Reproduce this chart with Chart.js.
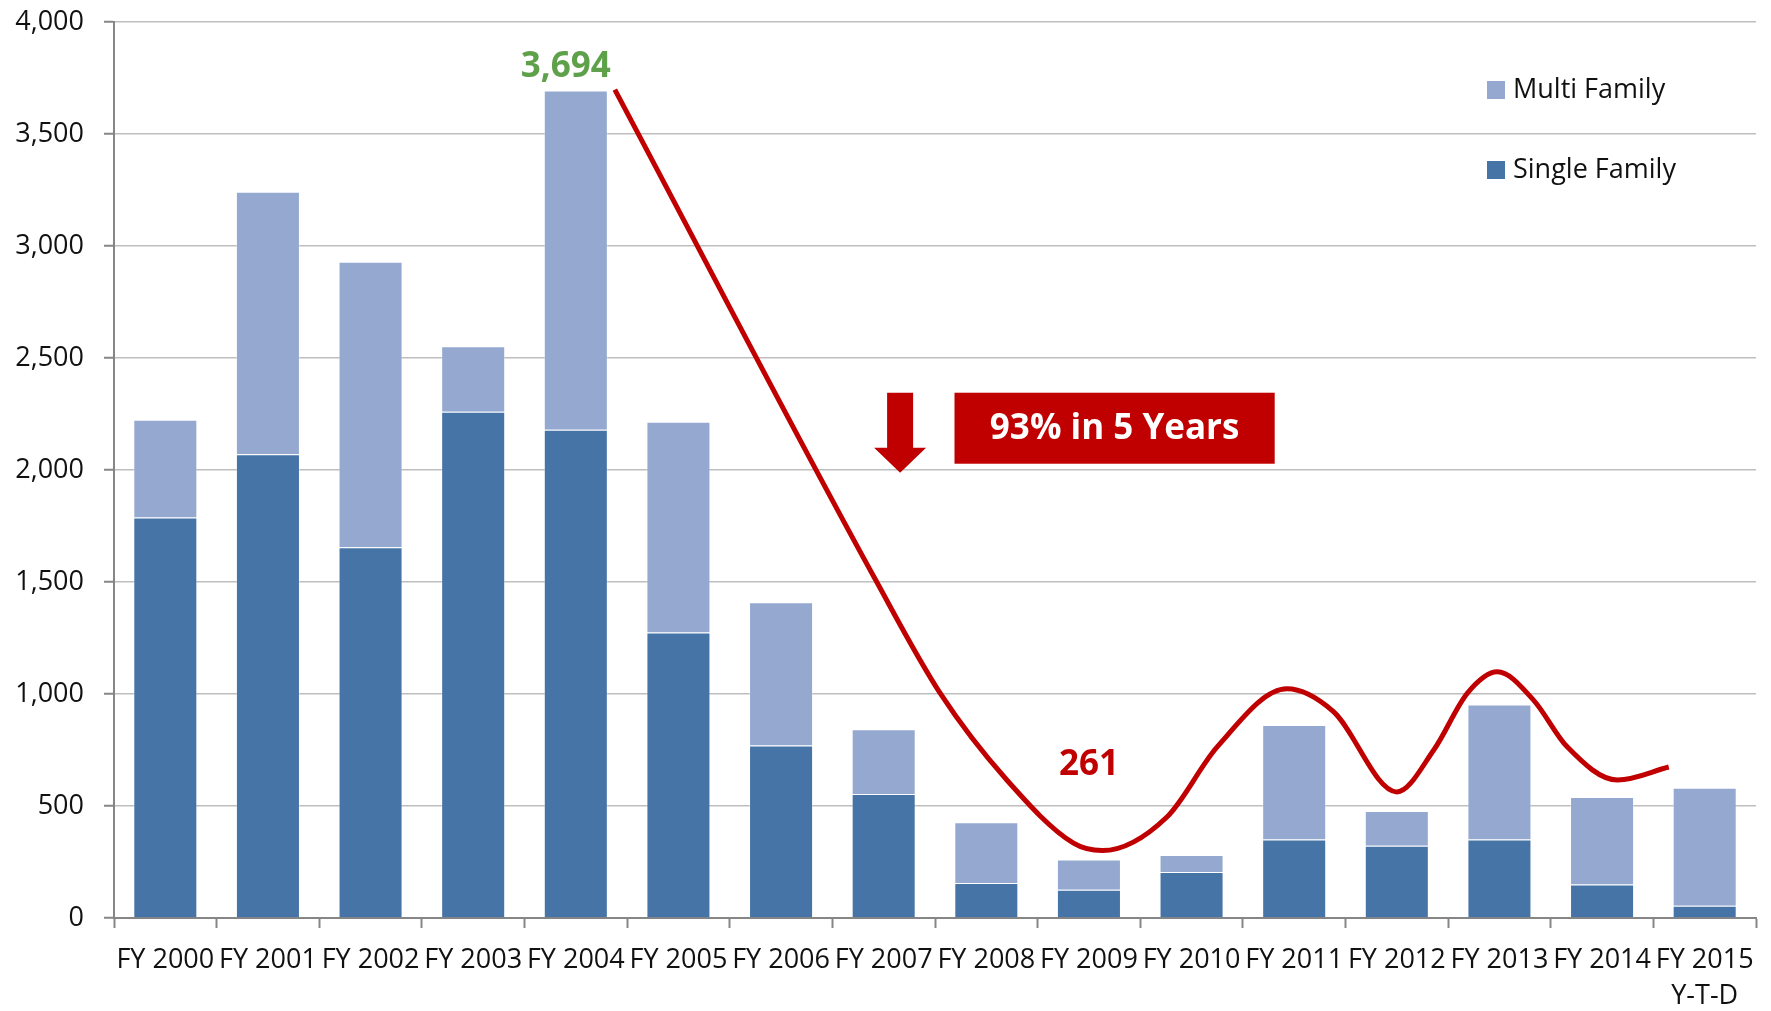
<!DOCTYPE html>
<html>
<head>
<meta charset="utf-8">
<script src="https://cdn.jsdelivr.net/npm/chart.js@4.4.1/dist/chart.umd.min.js"></script>
<style>
  html, body { margin: 0; padding: 0; background: #fff; }
  #wrap { width: 1771px; height: 1011px; }
</style>
</head>
<body>
<div id="wrap"><canvas id="permitChart" width="1771" height="1011"></canvas></div>
<script>
// fiscal years on the x axis
const years = ['FY 2000', 'FY 2001', 'FY 2002', 'FY 2003', 'FY 2004', 'FY 2005', 'FY 2006', 'FY 2007',
  'FY 2008', 'FY 2009', 'FY 2010', 'FY 2011', 'FY 2012', 'FY 2013', 'FY 2014', ['FY 2015', 'Y-T-D']];

const singleFamily = [1788, 2070, 1655, 2260, 2180, 1275, 770, 554, 156, 126, 205, 350, 323, 350, 150, 55];
const multiFamily = [436, 1172, 1275, 292, 1514, 940, 640, 289, 272, 135, 76, 512, 155, 603, 390, 527];

// hand drawn red trend curve, x = category index
const trendX = [4.38, 6.93, 7.55, 8.2, 8.85, 9.13, 9.76, 10.25, 10.93, 11.38, 12.0, 12.36, 12.69,
  12.98, 13.33, 13.66, 14.15, 14.65];
const trendY = [3698, 1502, 1004, 616, 334, 301, 451, 764, 1023, 922, 563, 750, 1005,
  1099, 974, 764, 616, 674];

const yTicks = [0, 500, 1000, 1500, 2000, 2500, 3000, 3500, 4000];

const peakIdx = 4;
const lowIdx = 9;
const dropText = '93% in 5 Years';

const RED = '#C00000';
const AXIS = '#868686';
const FONT = '"Open Sans", sans-serif';

const fmt = v => Math.round(v).toString().replace(/\B(?=(\d{3})+(?!\d))/g, ',');
const total = i => singleFamily[i] + multiFamily[i];

const overlayPlugin = {
  id: 'overlay',
  afterDatasetsDraw(chart) {
    const ctx = chart.ctx;
    const xs = chart.scales.x, x2 = chart.scales.x2, ys = chart.scales.y;
    ctx.save();

    // peak / low value labels
    ctx.textAlign = 'center';
    ctx.textBaseline = 'alphabetic';
    ctx.font = 'bold 35px ' + FONT;
    ctx.fillStyle = '#5FA04A';
    ctx.fillText(fmt(total(peakIdx)), xs.getPixelForValue(peakIdx) - 10, ys.getPixelForValue(total(peakIdx)) - 14);
    ctx.fillStyle = RED;
    ctx.fillText(fmt(total(lowIdx)), xs.getPixelForValue(lowIdx), ys.getPixelForValue(total(lowIdx)) - 85);

    // red box
    const bx0 = x2.getPixelForValue(7.69), bx1 = x2.getPixelForValue(10.81);
    const by0 = ys.getPixelForValue(2345), by1 = ys.getPixelForValue(2028);
    ctx.fillStyle = RED;
    ctx.fillRect(bx0, by0, bx1 - bx0, by1 - by0);
    ctx.fillStyle = '#fff';
    ctx.textBaseline = 'middle';
    ctx.fillText(dropText, (bx0 + bx1) / 2, (by0 + by1) / 2 + 1);

    // down arrow
    const ax = x2.getPixelForValue(7.16);
    const aTop = ys.getPixelForValue(2345), aMid = ys.getPixelForValue(2099), aTip = ys.getPixelForValue(1988);
    ctx.fillStyle = RED;
    ctx.beginPath();
    ctx.moveTo(ax - 13, aTop);
    ctx.lineTo(ax + 13, aTop);
    ctx.lineTo(ax + 13, aMid);
    ctx.lineTo(ax + 26, aMid);
    ctx.lineTo(ax, aTip);
    ctx.lineTo(ax - 26, aMid);
    ctx.lineTo(ax - 13, aMid);
    ctx.closePath();
    ctx.fill();

    // legend, stacked top entry first
    ctx.font = '27px ' + FONT;
    ctx.textAlign = 'left';
    ctx.textBaseline = 'middle';
    const bars = chart.data.datasets.filter(d => d.type === 'bar').slice().reverse();
    bars.forEach((d, i) => {
      const cy = 90 + i * 80;
      ctx.fillStyle = d.backgroundColor;
      ctx.fillRect(1487, cy - 9, 18, 18);
      ctx.fillStyle = '#111';
      ctx.fillText(d.label, 1513, cy);
    });
    ctx.restore();
  }
};

Chart.defaults.font.family = FONT;
Chart.defaults.color = '#111';

new Chart(document.getElementById('permitChart').getContext('2d'), {
  type: 'bar',
  data: {
    labels: years,
    datasets: [{
      type: 'bar',
      label: 'Single Family',
      data: singleFamily,
      stack: 'families',
      grouped: false,
      backgroundColor: '#4674A7',
      borderColor: 'rgba(255,255,255,0.35)',
      borderWidth: 1,
      barPercentage: 0.624,
      categoryPercentage: 1,
      order: 1
    }, {
      type: 'bar',
      label: 'Multi Family',
      data: multiFamily,
      stack: 'families',
      grouped: false,
      backgroundColor: '#95A9D0',
      borderColor: 'rgba(255,255,255,0.35)',
      borderWidth: 1,
      barPercentage: 0.624,
      categoryPercentage: 1,
      order: 1
    }, {
      type: 'line',
      label: 'trend',
      data: trendX.map((x, i) => ({ x: x, y: trendY[i] })),
      xAxisID: 'x2',
      borderColor: RED,
      borderWidth: 5,
      pointRadius: 0,
      cubicInterpolationMode: 'monotone',
      fill: false,
      order: 0
    }]
  },
  options: {
    responsive: false,
    animation: false,
    layout: { padding: { left: 0, right: 15, top: 22, bottom: 0 } },
    plugins: {
      legend: { display: false },
      tooltip: { enabled: false }
    },
    scales: {
      x: {
        stacked: true,
        offset: true,
        grid: { offset: true, drawOnChartArea: false, drawTicks: true, tickLength: 10, tickColor: AXIS, tickWidth: 2 },
        border: { color: AXIS, width: 2 },
        ticks: { autoSkip: false, maxRotation: 0, minRotation: 0, padding: 14, font: { size: 27, lineHeight: 1.35 }, color: '#111' },
        afterFit: s => { s.height = 93; s.paddingLeft = 0; s.paddingRight = 0; }
      },
      x2: {
        type: 'linear',
        display: false,
        offset: false,
        grid: { offset: false },
        min: -0.5,
        max: 15.5
      },
      y: {
        stacked: true,
        min: 0,
        max: 4000,
        afterBuildTicks: s => { s.ticks = yTicks.map(v => ({ value: v })); },
        grid: { color: '#BEBEBE', lineWidth: 1.5, tickLength: 10, tickColor: AXIS, tickWidth: 2 },
        border: { color: AXIS, width: 2 },
        ticks: { padding: 20, font: { size: 27 }, color: '#111', callback: v => fmt(v) },
        afterFit: s => { s.width = 114; s.paddingTop = 0; s.paddingBottom = 0; }
      }
    }
  },
  plugins: [overlayPlugin]
});
</script>
</body>
</html>
